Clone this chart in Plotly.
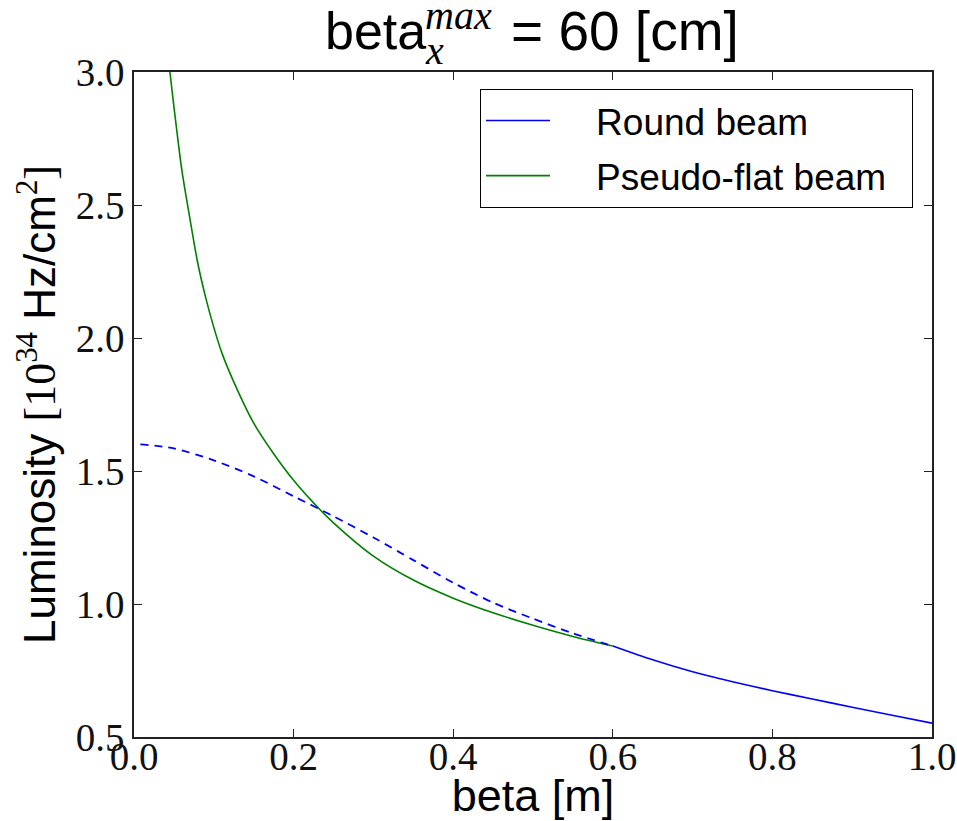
import plotly.graph_objects as go

# ---- data ----
beta_round_dashed = [0.008, 0.05, 0.1, 0.15, 0.2, 0.25, 0.3, 0.35, 0.4, 0.45, 0.5, 0.55, 0.6]
lum_round_dashed = [1.600, 1.585, 1.54, 1.48, 1.405, 1.33, 1.25, 1.165, 1.08, 1.005, 0.945, 0.89, 0.842]

beta_round = [0.6, 0.65, 0.7, 0.75, 0.8, 0.85, 0.9, 0.95, 1.0]
lum_round = [0.842, 0.790, 0.745, 0.708, 0.674, 0.643, 0.612, 0.582, 0.552]

beta_flat = [0.045, 0.05, 0.06, 0.07, 0.08, 0.09, 0.1, 0.11, 0.125, 0.15, 0.175, 0.2, 0.225, 0.25,
             0.3, 0.35, 0.4, 0.45, 0.5, 0.55, 0.6]
lum_flat = [3.00, 2.87, 2.63, 2.45, 2.28, 2.15, 2.04, 1.945, 1.835, 1.68, 1.565, 1.465, 1.38, 1.305,
            1.18, 1.09, 1.022, 0.967, 0.92, 0.878, 0.842]

x_ticks = [0.0, 0.2, 0.4, 0.6, 0.8, 1.0]
y_ticks = [0.5, 1.0, 1.5, 2.0, 2.5, 3.0]

BLUE = "#0000ff"
GREEN = "#008000"
AXC = "#222222"
SERIF = "Liberation Serif"
SANS = "Liberation Sans"

W, H = 957, 821
L, R, T, B = 134, 25, 72, 84
PW, PH = W - L - R, H - T - B


def px_x(px):
    return (px - L) / PW


def px_y(py):
    return (H - B - py) / PH


fig = go.Figure()
fig.add_trace(go.Scatter(x=beta_round, y=lum_round, mode="lines", name="    Round beam",
                         legendgroup="round",
                         line=dict(color=BLUE, width=1.6, shape="spline", smoothing=0.8)))
fig.add_trace(go.Scatter(x=beta_flat, y=lum_flat, mode="lines", name="    Pseudo-flat beam  ",
                         legendgroup="flat",
                         line=dict(color=GREEN, width=1.6, shape="spline", smoothing=0.8)))
fig.add_trace(go.Scatter(x=beta_round_dashed, y=lum_round_dashed, mode="lines", showlegend=False,
                         legendgroup="round",
                         line=dict(color=BLUE, width=1.8, dash="8px,6px", shape="spline", smoothing=0.8)))

axis_common = dict(
    showline=True, linecolor=AXC, linewidth=1.5, mirror="ticks",
    ticks="inside", ticklen=8, tickwidth=1.2, tickcolor=AXC,
    showgrid=False, zeroline=False, automargin=False,
    tickfont=dict(family=SERIF, size=39, color="#111111"),
)

fig.update_xaxes(range=[0, 1], tickvals=x_ticks, ticktext=[f"{v:.1f}" for v in x_ticks],
                 ticklabelstandoff=-16,
                 title=dict(text="beta [m]", font=dict(family=SANS, size=45, color="#000000"), standoff=5),
                 **axis_common)
fig.update_yaxes(range=[0.5, 3.0], tickvals=y_ticks, ticktext=[f"{v:.1f}" for v in y_ticks],
                 title=dict(text=("Luminosity <span style=\"font-family:'Liberation Serif'\">[10<sup>34</sup></span>"
                                  " Hz/cm<span style=\"font-family:'Liberation Serif'\"><sup>2</sup>]</span>"),
                            font=dict(family=SANS, size=44, color="#000000"), standoff=6),
                 **axis_common)

# title built from pieces so that the sub/superscript are stacked
title_pieces = [
    ("beta", 428, 31, "right", SANS, 52),
    ("<i>max</i>", 423, 16, "left", SERIF, 40),
    ("<i>x</i>", 423, 51, "left", SERIF, 40),
    ("= 60 [cm]", 509, 31, "left", SANS, 55),
]
for txt, px, py, anc, fam, size in title_pieces:
    fig.add_annotation(text=txt, xref="paper", yref="paper", x=px_x(px), y=px_y(py),
                       xanchor=anc, yanchor="middle", showarrow=False,
                       font=dict(family=fam, size=size, color="#000000"))

fig.update_layout(
    width=W, height=H,
    margin=dict(l=L, r=R, t=T, b=B, autoexpand=False),
    paper_bgcolor="white", plot_bgcolor="white",
    showlegend=True,
    legend=dict(x=px_x(913), y=px_y(89), xanchor="right", yanchor="top",
                bgcolor="white", bordercolor="#000000", borderwidth=1,
                font=dict(family=SANS, size=37, color="#000000"),
                itemwidth=64, traceorder="grouped", tracegroupgap=4),
)

fig.write_html("out.html", config={"displayModeBar": False},
               post_script="document.body.style.margin='0px';")
